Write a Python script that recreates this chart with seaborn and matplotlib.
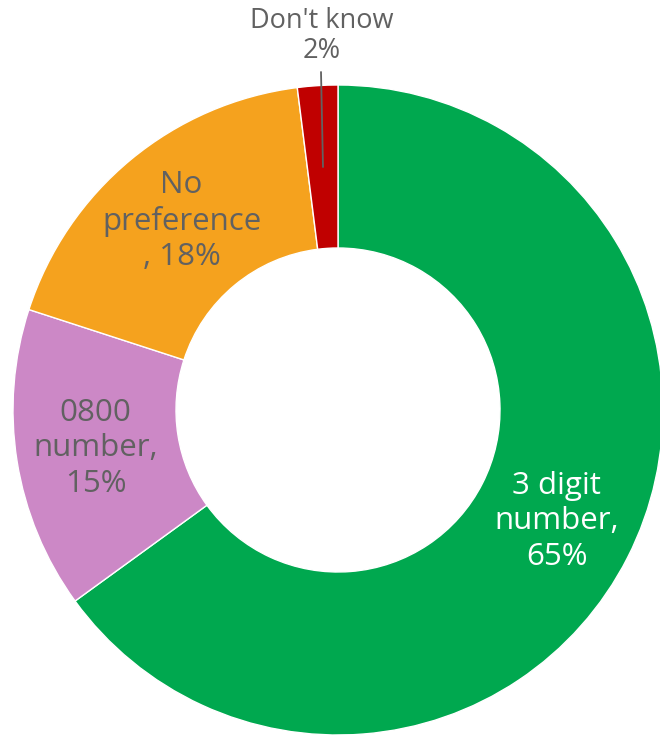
import matplotlib
matplotlib.use("Agg")
import matplotlib.pyplot as plt
import seaborn as sns

# Survey answers, read clockwise from the top
categories = ["3 digit\nnumber,\n65%", "0800\nnumber,\n15%", "No\npreference\n, 18%", ""]
values = [65, 15, 18, 2]
colors = ["#00A84F", "#CC88C6", "#F5A21E", "#C00000"]
text_colors = ["white", "#616161", "#616161", "#616161"]
small_label = "Don't know\n2%"

sns.set_theme(style="white")
plt.rcParams["font.family"] = ["Open Sans", "DejaVu Sans"]

fig = plt.figure(figsize=(6.6, 7.39), dpi=100)
ax = fig.add_axes([0, 0, 1, 1])

# work in pixel-like units so the donut sits where it does in the reference
wedges, texts = ax.pie(
    values,
    labels=categories,
    colors=sns.color_palette(colors),
    startangle=90,
    counterclock=False,
    center=(338, 329),
    radius=325,
    labeldistance=0.755,
    wedgeprops=dict(width=163, edgecolor="white", linewidth=1),
    textprops=dict(fontsize=22.5, ha="center", va="center", linespacing=1.25),
    frame=True,
)
for t, c in zip(texts, text_colors):
    t.set_color(c)
    t.set_horizontalalignment("center")

# label for the small slice sits outside with a leader line
ax.text(322, 703, small_label, ha="center", va="center", fontsize=19.5,
        color="#616161", linespacing=1.1)
ax.plot([321, 323], [667, 572], color="#616161", lw=1.3, zorder=5)

ax.set_xlim(0, 660)
ax.set_ylim(0, 739)
ax.set_aspect("equal")
ax.axis("off")

plt.savefig("out.png", dpi=100)
